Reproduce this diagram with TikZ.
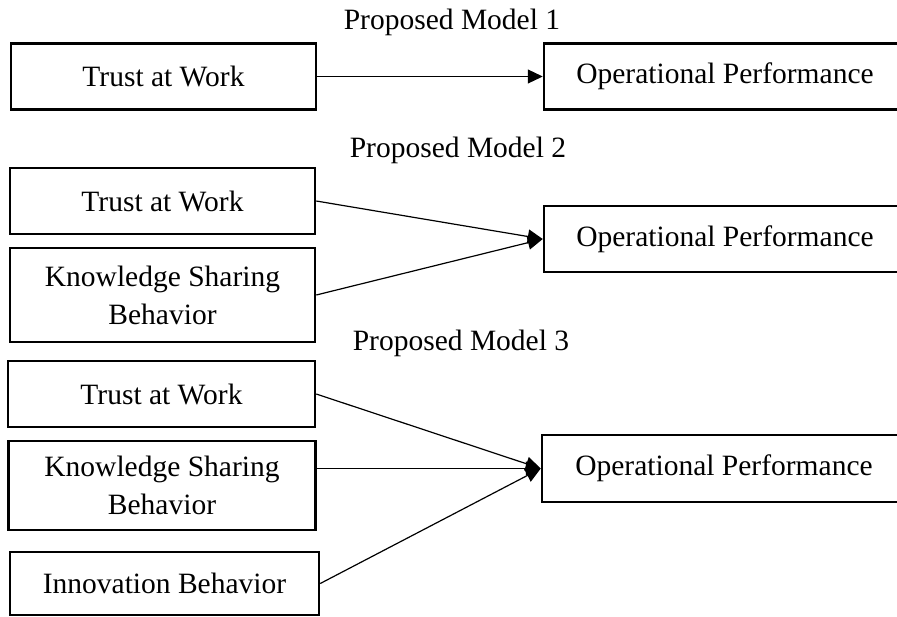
\documentclass[tikz,border=0pt]{standalone}
\usepackage{fontspec}
\setmainfont{Liberation Serif}
\usetikzlibrary{arrows.meta}

\begin{document}
\begin{tikzpicture}[x=1pt,y=-1pt]
\clip (0,0) rectangle (897,616);
\begin{scope}[every node/.style={draw,line width=2.5pt,align=center,inner sep=0pt,
              minimum width=305pt,minimum height=66pt,
              font=\fontsize{29.5}{38}\selectfont}]
    \node (trust1) at (163.5,76.5) {Trust at Work};
    \node[minimum width=362pt] (perf1) at (725,76.5) {Operational Performance};
    \node (trust2) at (162.5,201) {Trust at Work};
    \node[minimum height=94pt] (share2) at (162.5,295) {Knowledge Sharing\\Behavior};
    \node[minimum width=362pt] (perf2) at (725,239) {Operational Performance};
    \node[minimum width=307pt] (trust3) at (161.5,394) {Trust at Work};
    \node[minimum width=307pt,minimum height=89pt] (share3) at (162,485.5) {Knowledge Sharing\\Behavior};
    \node[minimum width=309pt,minimum height=63pt] (innov3) at (164.5,583.5) {Innovation Behavior};
    \node[minimum width=364pt,minimum height=67pt] (perf3) at (724,468.5) {Operational Performance};
\end{scope}

\begin{scope}[every node/.style={font=\fontsize{29.5}{38}\selectfont}]
    \node (model1) at (452,22) {Proposed Model 1};
    \node (model2) at (458,150) {Proposed Model 2};
    \node (model3) at (461,343) {Proposed Model 3};
\end{scope}

\begin{scope}[>={Triangle[length=15pt,width=14pt]},
              every edge/.style={draw=black, line width=1.2pt}]
    \path [->] (trust1) edge (perf1);
    \path [->] (trust2.east) edge (perf2.west);
    \path [->] (share2.east) edge (perf2.west);
    \path [->] (trust3.east) edge (perf3.west);
    \path [->] (share3.east |- perf3.west) edge (perf3.west);
    \path [->] (innov3.east) edge (perf3.west);
\end{scope}
\end{tikzpicture}
\end{document}
